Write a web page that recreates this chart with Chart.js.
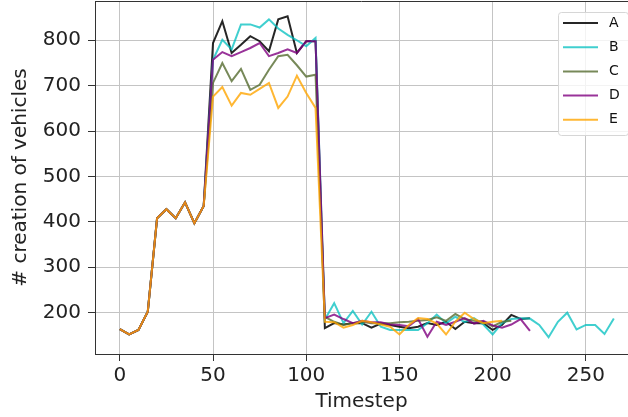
<!DOCTYPE html>
<html>
<head>
<meta charset="utf-8">
<script src="https://cdn.jsdelivr.net/npm/chart.js@4.4.0/dist/chart.umd.min.js"></script>
<style>
  html, body { margin: 0; padding: 0; background: #fff; }
  #wrap { width: 628px; height: 417px; }
</style>
</head>
<body>
<div id="wrap"><canvas id="myChart" width="628" height="417"></canvas></div>
<script>
// timesteps, one point every 5 steps
const timesteps = [];
for (let t = 0; t <= 265; t += 5) timesteps.push(t);

const seriesNames = ['A', 'B', 'C', 'D', 'E'];

// warm-up part is the same for every run (t = 0..45)
const warmup = [164, 152, 162, 202, 408, 428, 408, 443, 397, 435];

const seriesA = warmup.concat(
  [794, 842, 772, 790, 809, 798, 776, 846, 853, 772, 798, 798],
  [166, 177, 174, 177, 177, 167, 176, 173, 169, 166, 169, 177, 173, 180, 164, 180, 177, 177, 162, 173, 195, 186, 188]);
const seriesB = warmup.concat(
  [757, 801, 780, 835, 835, 828, 846, 826, 812, 800, 787, 805],
  [185, 221, 177, 204, 174, 202, 169, 162, 162, 162, 162, 177, 196, 177, 191, 179, 188, 174, 152, 177, 186, 188, 187, 173, 146, 180, 200, 163, 173, 173, 153, 187]);
const seriesC = warmup.concat(
  [706, 750, 710, 737, 691, 702, 735, 765, 768, 745, 720, 724],
  [191, 180, 173, 177, 180, 177, 177, 177, 179, 180, 182, 184, 190, 182, 197, 186, 182, 180, 170, 180, 182]);
const seriesD = warmup.concat(
  [757, 774, 765, 774, 783, 794, 765, 772, 780, 772, 798, 798],
  [188, 196, 186, 177, 182, 179, 179, 174, 173, 170, 186, 147, 180, 173, 180, 188, 176, 182, 172, 167, 174, 186, 160]);
const seriesE = warmup.concat(
  [676, 697, 656, 684, 680, 693, 706, 651, 676, 722, 684, 651],
  [180, 179, 167, 173, 182, 179, 174, 169, 152, 173, 188, 186, 176, 152, 180, 200, 186, 177, 180, 182]);

const allSeries = [seriesA, seriesB, seriesC, seriesD, seriesE];
const colors = ['rgba(0,0,0,0.85)', 'rgba(0,191,191,0.75)', 'rgba(85,107,47,0.8)', 'rgba(128,0,128,0.8)', 'rgba(255,165,0,0.8)'];
const yTicks = [200, 300, 400, 500, 600, 700, 800];
const xTicks = [0, 50, 100, 150, 200, 250];

const FONT = 'DejaVu Sans';

// frame line on top + legend box in the upper right corner
const framePlugin = {
  id: 'frame',
  afterDatasetsDraw(chart) {
    const ctx = chart.ctx;
    const a = chart.chartArea;
    ctx.save();
    ctx.strokeStyle = '#333';
    ctx.lineWidth = 1;
    ctx.beginPath();
    ctx.moveTo(a.left, a.top + 0.5);
    ctx.lineTo(a.right, a.top + 0.5);
    ctx.stroke();

    // legend
    const bx = 558.5, by = 12.5, bw = 70, bh = 123;
    ctx.fillStyle = 'rgba(255,255,255,0.8)';
    ctx.strokeStyle = '#d6d6d6';
    ctx.beginPath();
    ctx.roundRect(bx, by, bw, bh, 3);
    ctx.fill();
    ctx.stroke();
    ctx.font = '14px ' + FONT;
    ctx.textBaseline = 'middle';
    ctx.textAlign = 'left';
    seriesNames.forEach((name, i) => {
      const y = 23 + i * 24.2;
      ctx.strokeStyle = colors[i];
      ctx.lineWidth = 2;
      ctx.beginPath();
      ctx.moveTo(563, y);
      ctx.lineTo(598, y);
      ctx.stroke();
      ctx.fillStyle = '#111';
      ctx.fillText(name, 609, y);
    });
    ctx.restore();
  }
};

const ctx = document.getElementById('myChart').getContext('2d');
const myChart = new Chart(ctx, {
  type: 'line',
  data: {
    datasets: allSeries.map((vals, i) => ({
      label: seriesNames[i],
      data: vals.map((v, j) => ({ x: timesteps[j], y: v })),
      borderColor: colors[i],
      backgroundColor: colors[i],
      borderWidth: 2,
      pointRadius: 0,
      tension: 0,
      fill: false,
      order: 4 - i
    }))
  },
  options: {
    responsive: false,
    animation: false,
    layout: { padding: { top: 1, right: 0, bottom: 0, left: 0 } },
    plugins: {
      legend: { display: false },
      tooltip: { enabled: false }
    },
    scales: {
      x: {
        type: 'linear',
        min: -13.3,
        max: 272.6,
        afterFit(scale) {
          scale.height = 63;
          scale.paddingLeft = 0;
          scale.paddingRight = 0;
        },
        afterBuildTicks(scale) { scale.ticks = xTicks.map(v => ({ value: v })); },
        ticks: {
          includeBounds: false,
          maxRotation: 0,
          padding: 3,
          color: '#222',
          font: { family: FONT, size: 20 }
        },
        grid: { color: '#c4c4c4', lineWidth: 1, tickLength: 7, tickColor: '#333' },
        border: { color: '#333', width: 1 },
        title: {
          display: true,
          text: 'Timestep',
          color: '#222',
          font: { family: FONT, size: 20 },
          padding: { top: 0, bottom: 3 }
        }
      },
      y: {
        min: 109,
        max: 886.5,
        afterFit(scale) {
          scale.width = 95;
          scale.paddingTop = 0;
          scale.paddingBottom = 0;
        },
        afterBuildTicks(scale) { scale.ticks = yTicks.map(v => ({ value: v })); },
        ticks: {
          includeBounds: false,
          padding: 7,
          color: '#222',
          font: { family: FONT, size: 20 }
        },
        grid: { color: '#c4c4c4', lineWidth: 1, tickLength: 7, tickColor: '#333' },
        border: { color: '#333', width: 1 },
        title: {
          display: true,
          text: '# creation of vehicles',
          color: '#222',
          font: { family: FONT, size: 20 },
          padding: { top: 9, bottom: 0 }
        }
      }
    }
  },
  plugins: [framePlugin]
});
</script>
</body>
</html>
